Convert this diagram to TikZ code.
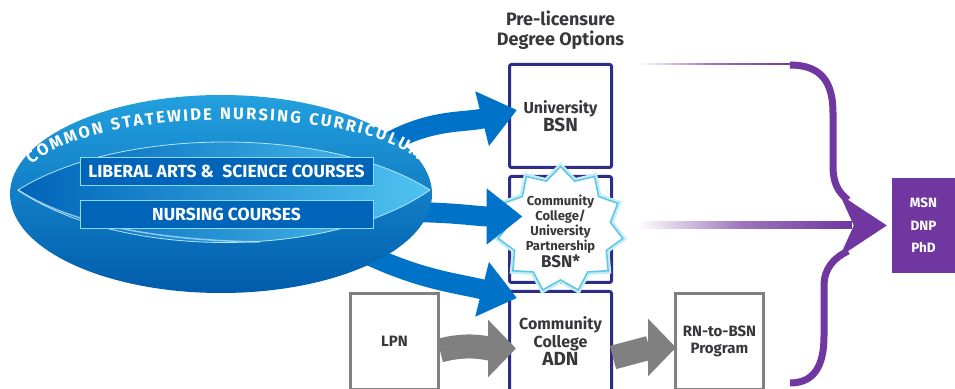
\documentclass[tikz,border=0pt]{standalone}
\usepackage{fontspec}
\setmainfont{Fira Sans}
\usetikzlibrary{arrows.meta,shapes.geometric,positioning,backgrounds,decorations.text,calc}

\definecolor{navyC}{RGB}{45,45,135}
\definecolor{skyC}{RGB}{0,115,200}
\definecolor{ringtopC}{RGB}{35,160,222}
\definecolor{ringbotC}{RGB}{0,92,172}
\definecolor{lensC}{RGB}{80,195,240}
\definecolor{deepC}{RGB}{0,100,185}
\definecolor{grapeC}{RGB}{112,55,160}
\definecolor{ashC}{RGB}{128,128,128}
\definecolor{inkC}{RGB}{55,55,60}
\definecolor{glowC}{RGB}{95,200,232}

\newcommand{\degfont}{\bfseries\fontsize{19}{22}\selectfont}

\pgfdeclarelayer{front}
\pgfsetlayers{background,main,front}

\begin{document}
\begin{tikzpicture}[
    x=1pt, y=1pt,
    colbox/.style={rectangle, draw=navyC, line width=3pt, rounded corners=2pt, minimum width=102pt, inner sep=0pt},
    coltext/.style={align=center, text=inkC, font=\bfseries\fontsize{16}{18}\selectfont},
    sidebox/.style={rectangle, draw=ashC, line width=3pt, fill=white, minimum width=88pt, minimum height=95pt, align=center, text=inkC, font=\bfseries\fontsize{15}{17}\selectfont},
    bar/.style={rectangle, fill=deepC, draw=cyan!45!white, line width=0.7pt, minimum width=293pt, minimum height=28pt, text=white, font=\bfseries\fontsize{17.5}{17.5}\selectfont},
    gradbox/.style={rectangle, fill=grapeC, minimum width=63pt, minimum height=95pt, align=center, text=white, font=\bfseries\fontsize{13.5}{22.5}\selectfont},
    bluearrow/.style={skyC, line width=20pt, -{Triangle[length=36pt,width=54pt]}},
    grayarrow/.style={ashC, line width=24pt, -{Triangle[length=28pt,width=56pt]}},
    brace/.style={grapeC, line width=7pt}
]
\useasboundingbox (0,0) rectangle (955,388);

% Curriculum ring
\begin{pgfonlayer}{front}
\node[ellipse, minimum width=422pt, minimum height=198pt, top color=ringtopC, bottom color=ringbotC] (curric) at (221,194) {};
\shade[left color=deepC, right color=lensC, draw=cyan!30!white, line width=0.8pt]
  (18,198) .. controls (120,262) and (330,262) .. (430,198) .. controls (330,128) and (120,128) .. cycle;
\draw[cyan!25!white, line width=1.5pt, opacity=0.7] (18,198) .. controls (70,165) and (150,148) .. (260,146);
\path[decorate, decoration={text along path, text align=fit to path,
    text={|\bfseries\fontsize{16.5}{16.5}\selectfont\color{white}|COMMON STATEWIDE NURSING CURRICULUM}}]
  (32,223) .. controls (88,280) and (352,285) .. (418,228);
\node[bar] (liberal) at (226.5,217) {LIBERAL ARTS \&\ \ SCIENCE COURSES};
\node[bar, below=15pt of liberal] (nursing) {NURSING COURSES};
\end{pgfonlayer}

% Degree column
\node[colbox, coltext, minimum height=103pt] (univ) at (560.5,272) {University\\{\degfont BSN}};
\node[colbox, minimum height=106pt, below=6pt of univ] (partnerbox) {};
\node[colbox, coltext, minimum height=100pt, below=6pt of partnerbox] (adn) {Community\\College\\{\degfont ADN}};
\node[coltext, font=\bfseries\fontsize{18}{20}\selectfont, above=10pt of univ] (title) {Pre-licensure\\Degree Options};

\node[star, star points=11, star point ratio=1.25, minimum size=126pt, draw=glowC!35, line width=6pt] (partnerglow) at (partnerbox) {};
\node[star, star points=11, star point ratio=1.25, minimum size=126pt, fill=white, draw=glowC, line width=1.6pt] (partner) at (partnerbox) {};
\node[coltext, font=\bfseries\fontsize{13}{15}\selectfont] (partnertxt) at ([yshift=-2pt]partner.center) {Community\\College/\\University\\Partnership\\{\fontsize{17}{20}\selectfont BSN*}};

% Side boxes
\node[sidebox, left=68pt of adn] (lpn) {LPN};
\node[sidebox, right=61pt of adn] (rnbsn) {RN-to-BSN\\Program};
\node[gradbox] (grad) at (923.5,162.5) {MSN\\DNP\\PhD};

% Blue arrows
\draw[bluearrow] ([xshift=-20pt]curric.15) to[out=30,in=194] ([xshift=9pt,yshift=6pt]univ.west);
\draw[bluearrow] ([xshift=-20pt]curric.355) to[out=0,in=180] ([xshift=-38pt,yshift=13pt]partner.center);
\draw[bluearrow] ([xshift=-20pt]curric.340) to[out=-25,in=166] ([xshift=9pt,yshift=-8pt]adn.north west);

% Gray arrows
\draw[grayarrow] ([yshift=-9pt]lpn.east) to[out=15,in=180] ([xshift=8pt,yshift=-7pt]adn.west);
\draw[grayarrow] ([yshift=-16pt]adn.east) to[out=15,in=180] ([xshift=2pt,yshift=-6pt]rnbsn.west);

% Purple brace
\coordinate (bracetip) at ([xshift=-5pt]grad.west);
\coordinate (bracetop) at (790,323);
\coordinate (bracebot) at (790,5);
\shade[left color=white, right color=grapeC, middle color=grapeC!70] ([xshift=24pt,yshift=-2pt]univ.north east) rectangle ([yshift=1.8pt]bracetop);
\shade[left color=white, right color=grapeC, middle color=grapeC!70] ([xshift=24pt,yshift=0.5pt]partnerbox.east) rectangle ([xshift=-35pt,yshift=4pt]bracetip);
\draw[brace] (bracetop) .. controls (822,323) and (833,305) .. (833,275) -- (833,222) .. controls (833,205) and (838,196) .. (848,188);
\draw[brace] (bracebot) .. controls (814,5) and (824,22) .. (824,52) -- (824,102) .. controls (824,120) and (834,130) .. (848,137);
\fill[grapeC] (bracetip) -- ++(-47,31) -- ++(14,-31) -- ++(-14,-31) -- cycle;

\end{tikzpicture}
\end{document}
